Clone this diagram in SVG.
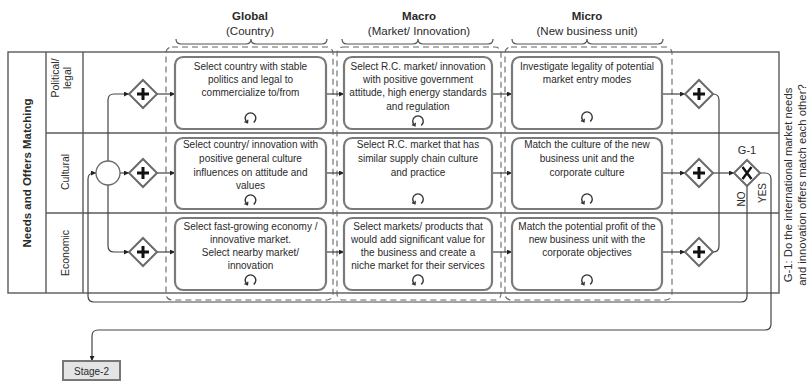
<svg xmlns="http://www.w3.org/2000/svg" width="809" height="382" viewBox="0 0 809 382">
<style>
text{font-family:"Liberation Sans",Arial,sans-serif;fill:#2a2a2a}
.t{font-size:10px;text-anchor:middle}
.h{font-size:11.5px;text-anchor:middle}
.hb{font-size:11.5px;font-weight:bold;text-anchor:middle}
.lane{font-size:10.5px;text-anchor:middle}
.pool{fill:none;stroke:#5a5a5a;stroke-width:1.4}
.task{fill:#fff;stroke:#7a7a7a;stroke-width:2.2}
.grp{fill:none;stroke:#666;stroke-width:1.1;stroke-dasharray:6 4}
.brace{fill:none;stroke:#555;stroke-width:1.2}
.gw{fill:#fff;stroke:#6a6a6a;stroke-width:2}
.mk{stroke:#111;stroke-width:3;fill:none}
.flow{fill:none;stroke:#444;stroke-width:1.2}
.arr{marker-end:url(#ah)}
</style>
<defs>
<marker id="ah" viewBox="0 0 10 10" refX="10" refY="5" markerWidth="5" markerHeight="5" orient="auto" markerUnits="userSpaceOnUse">
<path d="M0 0 L10 5 L0 10 z" fill="#222"/>
</marker>
<g id="loop">
<path d="M-3.2 4.4 A5.3 5.3 0 1 1 3.2 4.4" fill="none" stroke="#333" stroke-width="1.4"/>
<path d="M-6 3.6 L-3 4.9 L-2.7 1.7" fill="none" stroke="#333" stroke-width="1.3"/>
</g>
<g id="plus"><path class="mk" d="M-6 0 H6 M0 -6 V6"/></g>
</defs>

<!-- headers -->
<g id="headers">
<text class="hb" x="250" y="20">Global</text>
<text class="h" x="250" y="35">(Country)</text>
<text class="hb" x="419" y="20">Macro</text>
<text class="h" x="419" y="35">(Market/ Innovation)</text>
<text class="hb" x="587" y="20">Micro</text>
<text class="h" x="587" y="35">(New business unit)</text>
<path class="brace" d="M176 39 Q176 44 181 44 H246 Q251 44 251 39 Q251 44 256 44 H322 Q327 44 327 39"/>
<path class="brace" d="M342 39 Q342 44 347 44 H413 Q418 44 418 39 Q418 44 423 44 H488 Q493 44 493 39"/>
<path class="brace" d="M512 39 Q512 44 517 44 H582 Q587 44 587 39 Q587 44 592 44 H658 Q663 44 663 39"/>
</g>

<!-- pool and lanes -->
<g id="pool">
<rect class="pool" x="8" y="52" width="771" height="241"/>
<line class="pool" x1="46" y1="52" x2="46" y2="293"/>
<line class="pool" x1="83" y1="52" x2="83" y2="293"/>
<line class="pool" x1="46" y1="133" x2="779" y2="133"/>
<line class="pool" x1="46" y1="213" x2="779" y2="213"/>
<text transform="translate(31 173) rotate(-90)" style="font-size:11.5px;font-weight:bold;text-anchor:middle">Needs and Offers Matching</text>
<text class="lane" transform="translate(59 78) rotate(-90)">Political/</text>
<text class="lane" transform="translate(71 78) rotate(-90)">legal</text>
<text class="lane" transform="translate(69 172) rotate(-90)">Cultural</text>
<text class="lane" transform="translate(69 253) rotate(-90)">Economic</text>
</g>

<!-- dashed groups -->
<g id="groups">
<rect class="grp" x="166" y="47" width="167" height="253" rx="6"/>
<rect class="grp" x="337" y="47" width="164" height="253" rx="6"/>
<rect class="grp" x="505" y="47" width="167" height="253" rx="6"/>
</g>

<!-- connectors -->
<g id="connectors">
<path class="flow arr" d="M108 161 V100 Q108 94 114 94 H129"/>
<path class="flow arr" d="M120 173 H129"/>
<path class="flow arr" d="M108 185 V246 Q108 252 114 252 H129"/>
<path class="flow arr" d="M157 94 H175"/>
<path class="flow arr" d="M157 173 H175"/>
<path class="flow arr" d="M157 252 H175"/>
<path class="flow arr" d="M326 94 H344"/>
<path class="flow arr" d="M326 173 H344"/>
<path class="flow arr" d="M326 252 H344"/>
<path class="flow arr" d="M492 94 H512"/>
<path class="flow arr" d="M492 173 H512"/>
<path class="flow arr" d="M492 252 H512"/>
<path class="flow arr" d="M662 94 H685"/>
<path class="flow arr" d="M662 173 H685"/>
<path class="flow arr" d="M662 252 H685"/>
<path class="flow" d="M713 94 Q719 94 719 100 V246 Q719 252 713 252"/>
<path class="flow arr" d="M713 173 H734"/>
<path class="flow arr" d="M747 186 V296 Q747 302 741 302 H94 Q88 302 88 296 V179 Q88 173 94 173 H96"/>
<path class="flow arr" d="M760 173 H765 Q771 173 771 179 V324 Q771 330 765 330 H98 Q92 330 92 336 V361"/>
<text transform="translate(745 199) rotate(-90)" style="font-size:10px;text-anchor:middle">NO</text>
<text transform="translate(766 193) rotate(-90)" style="font-size:10px;text-anchor:middle">YES</text>
</g>

<!-- start event -->
<g id="start"><circle cx="108" cy="173" r="12" fill="#fff" stroke="#6a6a6a" stroke-width="1.3"/></g>

<!-- left gateways -->
<g id="gwL1" transform="translate(143 94)"><path class="gw" d="M0 -14 L14 0 L0 14 L-14 0 Z"/><use href="#plus"/></g>
<g id="gwL2" transform="translate(143 173)"><path class="gw" d="M0 -14 L14 0 L0 14 L-14 0 Z"/><use href="#plus"/></g>
<g id="gwL3" transform="translate(143 252)"><path class="gw" d="M0 -14 L14 0 L0 14 L-14 0 Z"/><use href="#plus"/></g>
<!-- right gateways -->
<g id="gwR1" transform="translate(699 94)"><path class="gw" d="M0 -14 L14 0 L0 14 L-14 0 Z"/><use href="#plus"/></g>
<g id="gwR2" transform="translate(699 173)"><path class="gw" d="M0 -14 L14 0 L0 14 L-14 0 Z"/><use href="#plus"/></g>
<g id="gwR3" transform="translate(699 252)"><path class="gw" d="M0 -14 L14 0 L0 14 L-14 0 Z"/><use href="#plus"/></g>
<!-- G-1 -->
<g id="g1">
<text x="747" y="154" style="font-size:11px;text-anchor:middle">G-1</text>
<path class="gw" d="M747 160 L760 173 L747 186 L734 173 Z"/>
<path class="mk" d="M742.5 167 L751.5 179 M751.5 167 L742.5 179" style="stroke-width:2.4"/>
</g>

<!-- tasks row 1 -->
<g id="task-g1"><rect class="task" x="175" y="57" width="151" height="72" rx="8"/>
<text class="t" x="250.5" y="70">Select country with stable</text>
<text class="t" x="250.5" y="83">politics and legal to</text>
<text class="t" x="250.5" y="96">commercialize to/from</text>
<use href="#loop" x="250.5" y="118"/></g>
<g id="task-m1"><rect class="task" x="344" y="57" width="148" height="72" rx="8"/>
<text class="t" x="418" y="70">Select R.C. market/ innovation</text>
<text class="t" x="418" y="83">with positive government</text>
<text class="t" x="418" y="96">attitude, high energy standards</text>
<text class="t" x="418" y="110">and regulation</text>
<use href="#loop" x="418" y="121"/></g>
<g id="task-u1"><rect class="task" x="512" y="57" width="150" height="72" rx="8"/>
<text class="t" x="587" y="70">Investigate legality of potential</text>
<text class="t" x="587" y="83">market entry modes</text>
<use href="#loop" x="587" y="117"/></g>

<!-- tasks row 2 -->
<g id="task-g2"><rect class="task" x="175" y="138" width="151" height="71" rx="8"/>
<text class="t" x="250.5" y="148">Select country/ innovation with</text>
<text class="t" x="250.5" y="162">positive general culture</text>
<text class="t" x="250.5" y="176">influences on attitude and</text>
<text class="t" x="250.5" y="189">values</text>
<use href="#loop" x="250.5" y="200"/></g>
<g id="task-m2"><rect class="task" x="344" y="138" width="148" height="71" rx="8"/>
<text class="t" x="418" y="148">Select R.C. market that has</text>
<text class="t" x="418" y="162">similar supply chain culture</text>
<text class="t" x="418" y="176">and practice</text>
<use href="#loop" x="418" y="199"/></g>
<g id="task-u2"><rect class="task" x="512" y="138" width="150" height="71" rx="8"/>
<text class="t" x="587" y="148">Match the culture of the new</text>
<text class="t" x="587" y="162">business unit and the</text>
<text class="t" x="587" y="176">corporate culture</text>
<use href="#loop" x="587" y="199"/></g>

<!-- tasks row 3 -->
<g id="task-g3"><rect class="task" x="175" y="218" width="151" height="72" rx="8"/>
<text class="t" x="250.5" y="230">Select fast-growing economy /</text>
<text class="t" x="250.5" y="243">innovative market.</text>
<text class="t" x="250.5" y="256">Select nearby market/</text>
<text class="t" x="250.5" y="269">innovation</text>
<use href="#loop" x="250.5" y="280"/></g>
<g id="task-m3"><rect class="task" x="344" y="218" width="148" height="72" rx="8"/>
<text class="t" x="418" y="230">Select markets/ products that</text>
<text class="t" x="418" y="243">would add significant value for</text>
<text class="t" x="418" y="256">the business and create a</text>
<text class="t" x="418" y="269">niche market for their services</text>
<use href="#loop" x="418" y="280"/></g>
<g id="task-u3"><rect class="task" x="512" y="218" width="150" height="72" rx="8"/>
<text class="t" x="587" y="230">Match the potential profit of the</text>
<text class="t" x="587" y="243">new business unit with the</text>
<text class="t" x="587" y="256">corporate objectives</text>
<use href="#loop" x="587" y="280"/></g>

<!-- note -->
<g id="note">
<text transform="translate(792 185) rotate(-90)" style="font-size:11.3px;text-anchor:middle">G-1: Do the international market needs</text>
<text transform="translate(805.5 185) rotate(-90)" style="font-size:11.3px;text-anchor:middle">and innovation offers match each other?</text>
</g>

<!-- stage 2 -->
<g id="stage2">
<rect x="63" y="361" width="57" height="19" fill="#e4e4e4" stroke="#777" stroke-width="2"/>
<text x="91.5" y="374.5" style="font-size:10px;text-anchor:middle">Stage-2</text>
</g>
</svg>
